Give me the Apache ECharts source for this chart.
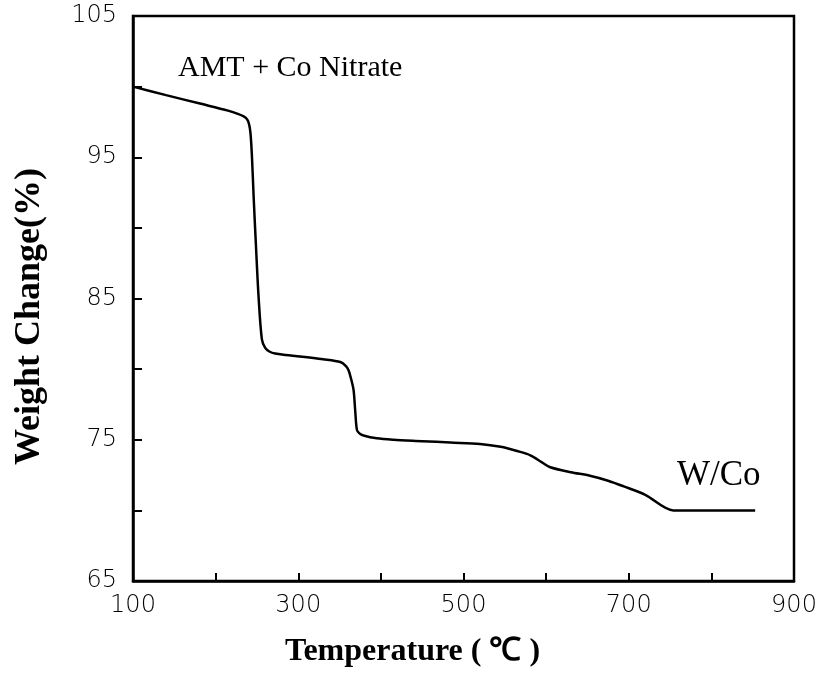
<!DOCTYPE html>
<html>
<head>
<meta charset="utf-8">
<script src="https://cdn.jsdelivr.net/npm/echarts@6/dist/echarts.min.js"></script>
<style>html,body{margin:0;padding:0;background:#fff;}#c{width:830px;height:685px;}</style>
</head>
<body>
<div id="c"></div>
<script>
// Temperature (°C)
var temperature = [100, 140, 181, 215, 234, 239, 242, 244, 246, 249, 252, 256, 260, 265, 272, 285, 302, 330, 351, 358, 361, 364, 367, 369, 371, 374, 379, 395, 415, 450, 484, 520, 545, 565, 581, 595, 605, 630, 653, 675, 694, 720, 754, 800, 853];
// Weight change (%)
var weight = [100.0, 99.4, 98.8, 98.3, 97.9, 97.6, 96.8, 95.0, 92.2, 88.5, 85.1, 82.1, 81.5, 81.25, 81.1, 81.0, 80.9, 80.7, 80.5, 80.2, 79.9, 79.3, 78.5, 77.0, 75.7, 75.45, 75.3, 75.1, 75.0, 74.9, 74.8, 74.7, 74.5, 74.2, 73.9, 73.4, 73.05, 72.7, 72.45, 72.1, 71.7, 71.1, 70.0, 70.0, 70.0];
var xTickLabels = [100, 300, 500, 700, 900];
var yTickLabels = [65, 75, 85, 95, 105];
var annotations = ["AMT + Co Nitrate", "W/Co"];

var data = temperature.map(function (t, i) { return [t, weight[i]]; });
var chart = echarts.init(document.getElementById('c'));
var tickFont = { fontFamily: 'DejaVu Sans', fontSize: 24, color: '#000', fontWeight: 'lighter' };
chart.setOption({
  backgroundColor: '#fff',
  animation: false,
  grid: { left: 133, top: 16, width: 661, height: 565, show: true, borderColor: '#000', borderWidth: 2.5, backgroundColor: 'transparent' },
  xAxis: {
    type: 'value', min: 100, max: 900, interval: 100,
    axisLine: { show: true, lineStyle: { color: '#000', width: 2.5 } },
    axisTick: { show: true, inside: true, length: 8, lineStyle: { color: '#000', width: 2 } },
    splitLine: { show: false },
    axisLabel: Object.assign({ margin: 13, formatter: function (v) { return xTickLabels.indexOf(v) >= 0 ? String(v) : ''; } }, tickFont)
  },
  yAxis: {
    type: 'value', min: 65, max: 105, interval: 5,
    axisLine: { show: true, lineStyle: { color: '#000', width: 2.5 } },
    axisTick: { show: true, inside: true, length: 9, lineStyle: { color: '#000', width: 2 } },
    splitLine: { show: false },
    axisLabel: Object.assign({ margin: 16, formatter: function (v) { return yTickLabels.indexOf(v) >= 0 ? String(v) : ''; } }, tickFont)
  },
  series: [{
    type: 'line', data: data, showSymbol: false, smooth: 0.3,
    lineStyle: { color: '#000', width: 2.5 }
  }],
  graphic: [
    { type: 'text', left: 178, top: 53, style: { text: annotations[0], font: '30px "Liberation Serif"', fill: '#000' } },
    { type: 'text', left: 677, top: 458, style: { text: annotations[1], font: '35px "Liberation Serif"', fill: '#000' } },
    { type: 'text', left: 285, top: 636, style: { text: 'Temperature ( \u2103 )', font: 'bold 32px "Liberation Serif"', fill: '#000' } },
    { type: 'text', x: 12, y: 465, rotation: Math.PI / 2, style: { text: 'Weight Change(%)', font: 'bold 36px "Liberation Serif"', fill: '#000', textVerticalAlign: 'top' } }
  ]
});
</script>
</body>
</html>
